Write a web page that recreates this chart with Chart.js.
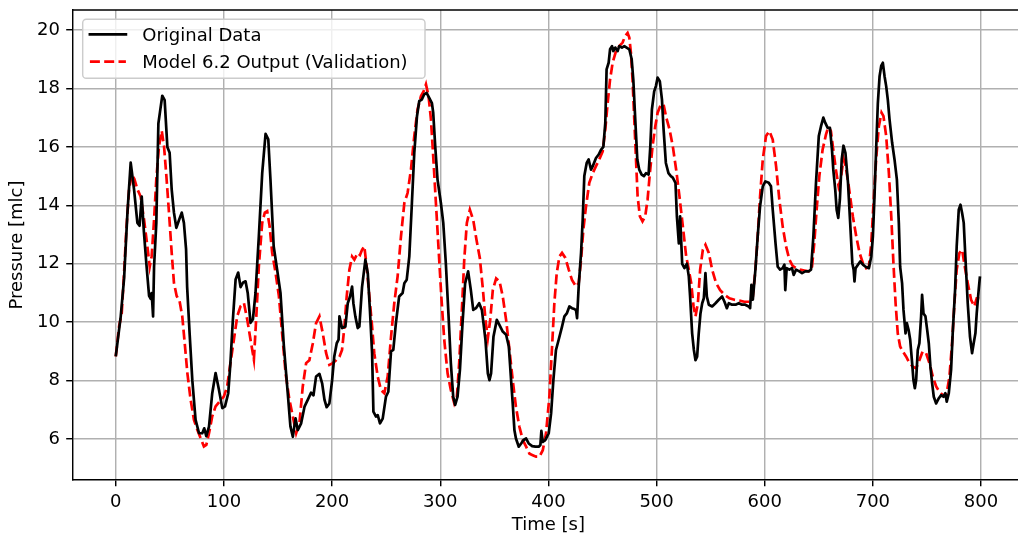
<!DOCTYPE html>
<html>
<head>
<meta charset="utf-8">
<script src="https://cdn.jsdelivr.net/npm/chart.js@4.4.1/dist/chart.umd.min.js"></script>
<style>
  html, body { margin: 0; padding: 0; background: #fff; overflow: hidden; }
  #wrap { width: 1018px; height: 536px; overflow: hidden; }
  canvas { display: block; }
</style>
</head>
<body>
<div id="wrap"><canvas id="chart" width="1030" height="536"></canvas></div>
<script>
// axis ticks
const X_TICKS = [0, 100, 200, 300, 400, 500, 600, 700, 800];
const Y_TICKS = [6, 8, 10, 12, 14, 16, 18, 20];

// measured pressure (black)
const ORIG_T = [0,4.6,7.7,10.8,13.8,16.9,20,22,24,26,28.3,30.8,32.3,33.2,34.5,35.4,37.5,39.4,40.9,43,45.2,47.7,49.8,51.7,53.8,56,58.5,61,63,65,66,68.3,70.8,73.8,77,80,81.8,83.7,86.2,89.2,92.3,95.4,98.5,101,104,106,108.3,110.8,113.2,115.4,117.5,120,122,124.6,126.8,129.2,132.3,135.4,138.5,141,143,146,149.2,152.3,155.4,158.5,161.5,163.7,166.2,168.3,171.4,174.5,177.5,180.6,182.8,185.2,188.3,190.8,193,195,197.5,200,202,204.3,206,206.8,209.2,212.3,214.5,216.6,218.5,219.7,221.5,223.7,225.2,227.7,230.8,233,235,237,238.2,240.6,242.2,244.3,246.8,249.8,252,254.5,256.6,259,262,265.2,266.8,269,271.4,273.8,276,278.5,280.6,283,285.2,287.4,289.8,292.3,293.5,295.4,297.5,300.6,302.8,305.2,307.7,309.8,312,313.8,316,318.2,320.6,323,325.8,328.3,330.5,333,336,338.5,341.8,344,345.5,347,349.2,352.3,354.8,357.8,360.9,363.4,365.5,367,368.6,370,372.6,374.8,377,379.4,381.8,385,388,391,392.6,393.5,394.8,397.2,400.3,402.5,404.6,407,409.5,412.6,414.8,417,419.4,421.8,424,425.5,426.5,428,430.2,431.7,433.2,435.4,437.2,439.4,441,444,446.5,448.6,450.8,452.6,453.8,455.7,457,458.8,460,461.8,464,465.5,468,470.2,472.3,474.8,477,478.5,480.3,482.2,484,486.2,488.3,490.2,492.6,494.2,495.7,497.8,499.4,501,503,505,506.5,508.6,511,513.2,515,517.5,518.8,520.6,521.8,523.7,525.8,528,529.8,531,532.9,534.5,536,537.5,539,540.6,542.2,543.7,545.2,546.5,548.3,551.4,554.5,557.5,560.6,562.8,565,566.8,569.8,573,576,579,582,585.2,586.5,587.7,589,591.4,593.5,595.7,598.2,600.6,603.7,605.8,607.4,610,612,614.2,616.6,618.2,619,620.3,622.8,625.2,626.8,629,632,634.5,637.5,640.6,642.8,645,647.4,650,652,654.2,656,658.2,660.3,662.2,663.4,665.2,666.5,668,669.5,671.2,672.8,674.6,677,679,681,682.2,683,684,686.2,688.3,690.8,693.2,696.3,698.5,700,701.5,703,704.6,706.2,707.7,709.2,710.8,712.3,713.8,715.4,717.8,720,722.2,724,725.2,727,728.3,730.2,731.4,733,734.5,736.3,737.5,738.8,740,741.5,743,744.6,745.5,746.8,748.6,750.2,751.7,753.2,754.8,756.3,758.5,761,763,765.2,767,768.3,770.2,772.3,773.8,776,777.5,779.4,781,782.5,784,785.5,787.7,789.8,791.7,793.2,794.8,796,797.8,799];
const ORIG_P = [8.83,10.2,11.5,13.75,15.46,14.55,13.4,13.3,14.3,13.1,12.0,10.9,10.8,11.0,10.2,11.9,13.4,16.8,17.2,17.75,17.6,16.0,15.8,14.55,13.75,13.23,13.5,13.75,13.4,12.5,11.2,9.6,8.0,6.66,6.2,6.2,6.37,6.1,6.43,7.57,8.26,7.69,7.06,7.12,7.57,8.6,10.1,11.46,11.7,11.2,11.35,11.4,11.0,9.98,10.1,11.0,12.95,15.1,16.45,16.26,14.9,12.6,11.8,11.0,9.2,7.8,6.43,6.08,6.71,6.31,6.54,7.11,7.34,7.59,7.5,8.14,8.23,7.91,7.34,7.09,7.22,8.0,8.82,9.28,9.4,10.2,9.8,9.85,10.65,10.88,11.22,10.65,10.2,9.8,9.85,11.2,12.14,11.68,10.4,8.94,6.94,6.77,6.82,6.54,6.7,7.45,7.62,9.0,9.05,9.97,10.88,11.0,11.33,11.45,12.25,14.08,15.8,17.05,17.57,17.62,17.8,17.85,17.68,17.5,17.17,16.0,14.88,14.08,13.4,12.0,10.2,8.6,7.45,7.17,7.45,8.37,9.97,11.33,11.74,11.1,10.42,10.48,10.65,10.42,9.4,8.25,8.02,8.25,9.5,10.08,9.9,9.68,9.57,9.17,8.02,7.22,6.3,6.02,5.74,5.85,5.97,6.02,5.85,5.76,5.74,5.74,5.8,6.28,5.9,5.97,6.2,6.88,8.02,9.05,9.4,9.85,10.2,10.3,10.54,10.48,10.45,10.42,10.14,11.22,12.37,13.5,15.0,15.45,15.57,15.22,15.34,15.62,15.74,15.9,16.0,16.82,18.65,18.88,19.34,19.45,19.28,19.4,19.28,19.45,19.4,19.45,19.4,19.34,19.0,18.3,16.94,15.57,15.22,15.05,15.0,15.1,15.05,16.0,17.28,17.9,18.08,18.37,18.25,17.62,16.6,15.45,15.1,15.0,14.95,14.77,13.62,12.7,13.62,12.0,11.85,12.0,11.57,10.88,9.62,9.05,8.7,8.82,9.62,10.3,10.65,10.82,11.68,10.88,10.6,10.54,10.65,10.77,10.88,10.7,10.48,10.65,10.6,10.6,10.65,10.6,10.6,10.54,10.48,11.28,10.77,11.8,12.94,13.97,14.65,14.82,14.77,14.65,13.85,12.7,11.9,11.8,11.85,11.97,11.1,11.85,11.8,11.85,11.62,11.8,11.74,11.68,11.74,11.74,11.8,12.94,14.77,16.37,16.7,17.0,16.82,16.65,16.65,15.9,15.22,14.54,13.85,13.57,14.2,15.57,16.04,15.8,14.77,13.4,12.02,11.8,11.4,11.85,11.97,12.08,11.97,11.9,11.85,12.25,12.94,14.3,15.9,17.5,18.42,18.77,18.88,18.42,18.08,17.62,16.94,16.14,15.57,14.88,13.4,11.9,11.34,10.42,9.62,9.97,9.74,9.4,8.6,8.02,7.74,8.02,9.05,9.28,10.2,10.94,10.3,10.2,9.74,9.28,8.48,7.91,7.45,7.22,7.4,7.5,7.45,7.57,7.28,7.57,8.37,9.62,11.1,12.6,13.85,14.02,13.74,13.4,12.25,10.65,9.5,8.94,9.28,9.62,10.3,11.1,11.57];

// model output (red dashed)
const MODEL_T = [0,3.1,5.5,7.7,9.8,12.3,14.8,17.2,20,23,26.2,29.2,31.4,33.2,35.4,37.5,40,42.5,44.6,46.8,49.2,51.7,53.8,56.3,59,61.5,64,66.2,69.2,72.3,75.4,78.5,81.5,83.7,86.2,89.2,92.3,96,100,103,106,109.2,112.3,115.4,118.5,121.5,124.6,127.7,129.8,132.3,135.4,137.8,140,142.2,144.6,147.7,150.8,153.8,157,160.3,163.7,166.8,169.8,172.9,176,179,182.2,185.2,188.3,191.4,194.5,197.5,200.6,203.7,206.8,209.2,211.4,213.5,216,218.5,220.6,223.7,225.8,227.7,229.8,232,234.5,237,239,242.2,245.2,248.3,251.4,254.5,257.5,260.6,263.7,266.8,269.8,272.9,276,279,282.2,284.6,286.8,289.2,291.4,293.5,296,298.5,301,303.7,306.8,309.8,313,315.4,317.5,320,322.2,324.6,327.4,330.5,333.5,336.6,339.5,341.8,344,346.2,348.6,351.7,354.8,357.8,360.9,364,367,370,373.2,376.3,379.4,382.5,385.5,388.6,391.7,394.8,397.8,400.9,403.4,405.5,407.7,410.2,412.6,415.7,418.8,421.8,425.5,428,430.2,432.3,434.8,437.8,441,444,447,450.2,452.6,454.8,457,459.4,462.5,465.5,468.6,471,473.2,474.8,476.3,477.8,479.4,481,482.5,484.6,487,489.5,491.7,493.8,496.3,498.8,501,504,506.5,509,512,515.1,518.2,521.2,524.3,527.4,529.8,532,534.2,536,538.2,540.3,542.8,545.2,548.3,551.4,555,558.8,562.8,567.4,572,576.6,581.2,585.8,589,591.4,593.5,595.7,598.2,601.2,604.3,607.4,610.5,613.5,616.6,619.7,622.8,625.8,628.9,632.6,636.6,640.6,643.7,645.8,648,650.5,653.5,656.6,659,661.2,663.4,665.8,668.3,670.5,672.8,675,677.5,681.5,684.6,687.7,690.8,693.8,696.3,698.5,700.6,703,705.5,708,709.8,712.3,714.8,717,719,721,723,725.2,727.7,730.8,733.8,737,740,743,746,749.2,752.3,755.4,758.5,761.5,764.6,767.7,770.8,773.2,775.4,777.5,780,782.5,785,787.7,790.8,793.8,796,798.5,800];
const MODEL_P = [8.83,9.86,10.3,11.7,13.18,14.55,15.06,14.9,14.55,14.3,13.5,12.6,11.9,12.26,13.5,14.9,16.03,16.55,16.03,15.0,13.75,12.38,11.35,10.9,10.72,10.2,9.18,8.26,7.35,6.66,6.32,6.03,5.75,5.8,6.2,6.78,7.12,7.29,7.46,7.8,8.6,9.4,10.2,10.55,10.66,10.1,9.4,8.72,10.1,11.92,13.4,13.75,13.8,13.3,12.38,11.7,10.9,9.63,8.26,7.4,6.77,6.2,6.54,7.8,8.6,8.7,9.28,9.97,10.2,9.62,8.94,8.54,8.6,8.7,8.82,9.05,9.85,10.88,11.8,12.25,12.14,12.37,12.3,12.48,12.6,11.9,10.88,9.85,8.94,8.14,7.68,7.57,8.14,9.5,10.65,11.57,12.94,14.08,14.42,15.22,16.37,17.28,17.74,17.9,18.14,17.74,16.94,15.68,14.08,12.48,10.88,9.4,8.25,7.68,7.22,7.45,8.6,10.42,12.14,13.4,13.85,13.5,12.82,12.2,11.1,10.08,9.45,10.08,11.1,11.5,11.4,10.88,10.08,9.05,8.02,7.1,6.42,5.97,5.74,5.5,5.45,5.4,5.4,5.62,6.2,7.45,9.17,10.65,11.68,12.25,12.37,12.2,11.8,11.45,11.22,11.34,12.14,13.17,13.97,14.77,15.1,15.34,15.57,15.85,16.6,17.5,18.3,18.88,19.28,19.45,19.57,19.8,19.9,19.74,19.22,18.3,16.94,15.57,14.3,13.62,13.45,13.62,14.2,15.1,16.02,16.7,17.17,17.45,17.45,17.0,16.6,16.0,15.2,14.3,13.28,12.25,11.8,11.34,10.54,10.2,10.65,11.8,12.48,12.65,12.37,11.8,11.34,11.1,10.94,10.82,10.77,10.74,10.7,10.7,10.88,11.8,12.94,14.3,15.57,16.37,16.54,16.25,15.34,14.2,13.28,12.6,12.14,11.93,11.85,11.8,11.77,11.74,11.9,12.7,13.85,15.0,15.9,16.42,16.7,16.54,15.9,15.22,14.65,14.94,15.6,15.3,14.7,13.62,12.94,12.37,12.02,11.85,11.9,12.7,14.08,15.57,16.7,17.17,17.05,16.37,15.1,13.62,12.02,10.65,9.62,9.17,9.0,8.82,8.6,8.48,8.42,8.7,9.0,8.94,8.6,8.14,7.8,7.62,7.51,7.45,8.14,9.28,10.65,11.8,12.37,12.48,11.9,11.34,10.77,10.54,10.82,10.82,10.88];

const FONT = 'DejaVu Sans';
const FS = 18;
Chart.defaults.font.family = FONT;
Chart.defaults.font.size = FS;
Chart.defaults.color = '#000';

const toPoints = (ts, ps) => ts.map((t, i) => ({ x: t, y: ps[i] }));

// top/right spines drawn over the lines, like matplotlib
const framePlugin = {
    id: 'frame',
    afterDatasetsDraw(chart) {
        const { ctx, chartArea: a } = chart;
        ctx.save();
        ctx.strokeStyle = '#000';
        ctx.lineWidth = 1.44;
        ctx.beginPath();
        ctx.moveTo(a.left, a.top);
        ctx.lineTo(a.right, a.top);
        ctx.lineTo(a.right, a.bottom);
        ctx.stroke();
        ctx.restore();
    }
};

// legend box in the upper left corner of the axes
const legendPlugin = {
    id: 'boxLegend',
    afterDraw(chart) {
        const ctx = chart.ctx;
        const a = chart.chartArea;
        const x0 = a.left + 10.2, y0 = a.top + 9.3, w = 342.3, h = 59, r = 3.6;
        ctx.save();
        ctx.beginPath();
        ctx.roundRect(x0, y0, w, h, r);
        ctx.fillStyle = 'rgba(255,255,255,0.8)';
        ctx.fill();
        ctx.strokeStyle = '#cccccc';
        ctx.lineWidth = 1.44;
        ctx.stroke();
        ctx.font = FS + 'px "' + FONT + '"';
        ctx.textBaseline = 'alphabetic';
        ctx.fillStyle = '#000';
        chart.data.datasets.forEach((ds, i) => {
            const cy = y0 + 15 + i * 27.4;
            ctx.beginPath();
            ctx.strokeStyle = ds.borderColor;
            ctx.lineWidth = ds.borderWidth;
            ctx.lineCap = ds.borderDash ? 'butt' : 'square';
            ctx.setLineDash(ds.borderDash || []);
            ctx.moveTo(x0 + 7.2, cy);
            ctx.lineTo(x0 + 43.2, cy);
            ctx.stroke();
            ctx.setLineDash([]);
            ctx.fillText(ds.label, x0 + 59.6, cy + 6.6);
        });
        ctx.restore();
    }
};

new Chart(document.getElementById('chart'), {
    type: 'line',
    data: {
        datasets: [
            {
                label: 'Original Data',
                data: toPoints(ORIG_T, ORIG_P),
                borderColor: '#000000',
                borderWidth: 2.7,
                borderJoinStyle: 'round',
                pointRadius: 0,
                tension: 0
            },
            {
                label: 'Model 6.2 Output (Validation)',
                data: toPoints(MODEL_T, MODEL_P),
                borderColor: '#ff0000',
                borderWidth: 2.7,
                borderDash: [10, 4.3],
                pointRadius: 0,
                tension: 0
            }
        ]
    },
    options: {
        responsive: false,
        animation: false,
        events: [],
        layout: { padding: { top: 10, right: 5.7, left: 0, bottom: 0 } },
        plugins: { legend: { display: false }, tooltip: { enabled: false } },
        scales: {
            x: {
                type: 'linear',
                min: -40,
                max: 840,
                afterFit: (s) => { s.height = 56; s.paddingLeft = 0; s.paddingRight = 0; },
                afterBuildTicks: (s) => { s.ticks = X_TICKS.map(v => ({ value: v })); },
                ticks: { padding: 5, maxRotation: 0, color: '#000' },
                grid: { color: '#b0b0b0', lineWidth: 1.44, tickColor: '#000', tickLength: 6.3, tickWidth: 1.44 },
                border: { color: '#000', width: 1.44 },
                title: { display: true, text: 'Time [s]', color: '#000', padding: { top: 0, bottom: 0 } }
            },
            y: {
                type: 'linear',
                min: 4.6,
                max: 20.685,
                afterFit: (s) => { s.width = 72.5; s.paddingTop = 0; s.paddingBottom = 0; },
                afterBuildTicks: (s) => { s.ticks = Y_TICKS.map(v => ({ value: v })); },
                ticks: { padding: 6.3, color: '#000' },
                grid: { color: '#b0b0b0', lineWidth: 1.44, tickColor: '#000', tickLength: 6.3, tickWidth: 1.44 },
                border: { color: '#000', width: 1.44 },
                title: { display: true, text: 'Pressure [mlc]', color: '#000', padding: { top: 7, bottom: 0 } }
            }
        }
    },
    plugins: [framePlugin, legendPlugin]
});
</script>
</body>
</html>
